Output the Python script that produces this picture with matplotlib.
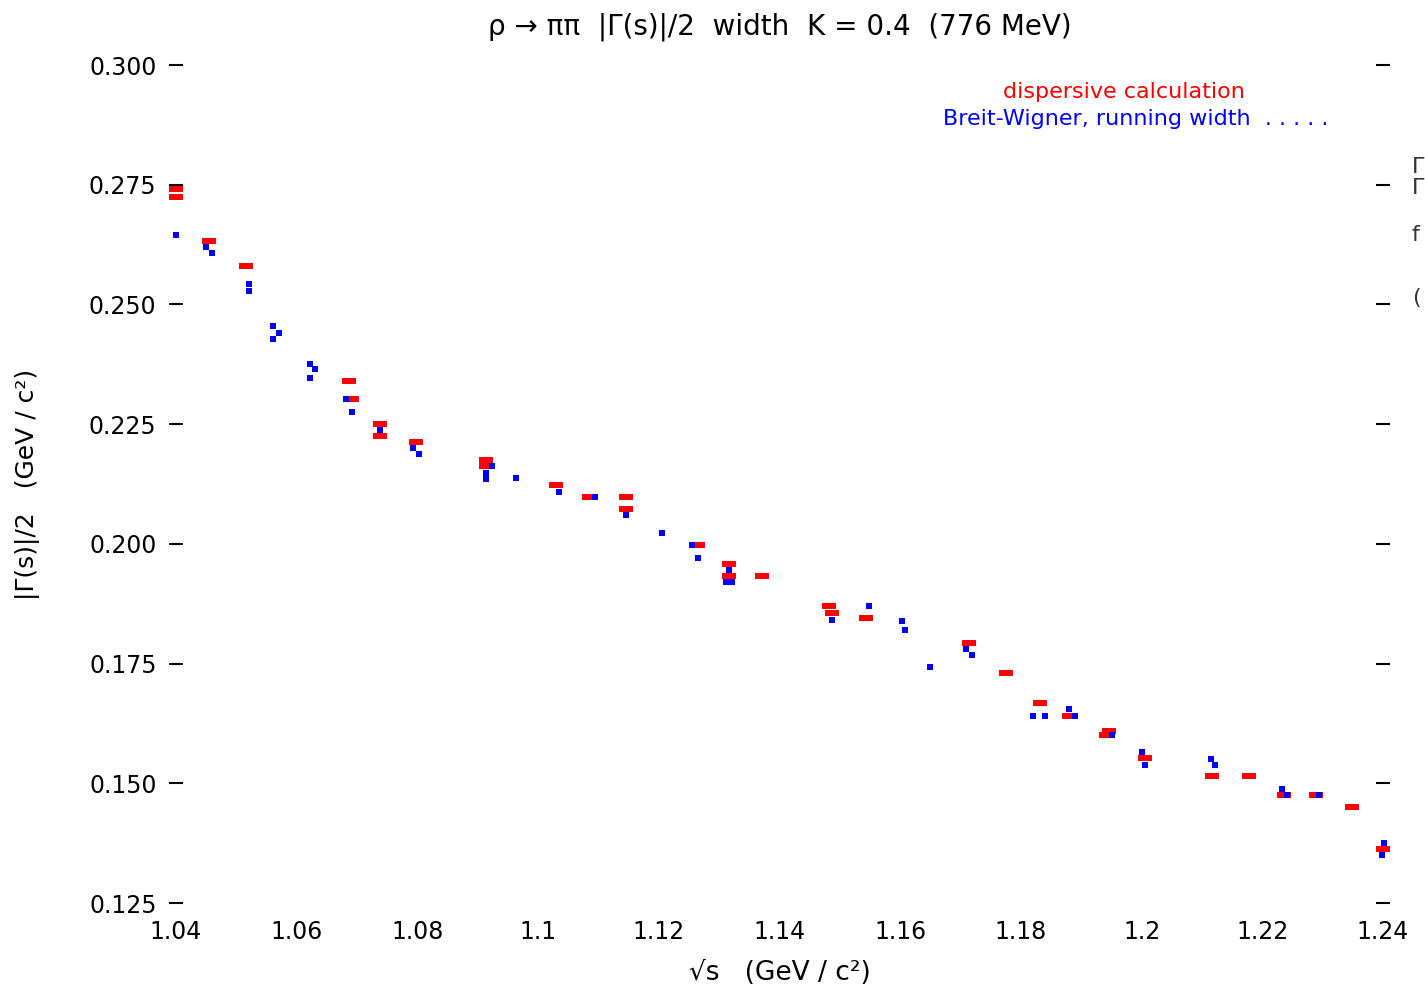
import numpy as np
import matplotlib
matplotlib.use("Agg")
import matplotlib.pyplot as plt

# dispersive calculation (red)
x_disp = [1.0400, 1.0400, 1.0455, 1.0516, 1.0687, 1.0692, 1.0738, 1.0738,
          1.0798, 1.0914, 1.0914, 1.1030, 1.1084, 1.1146, 1.1146, 1.1265,
          1.1316, 1.1316, 1.1371, 1.1482, 1.1487, 1.1544, 1.1714, 1.1775,
          1.1832, 1.1880, 1.1946, 1.1941, 1.2005, 1.2117, 1.2178, 1.2236,
          1.2289, 1.2349, 1.2400]
y_disp = [0.2741, 0.2724, 0.2632, 0.2580, 0.2340, 0.2303, 0.2250, 0.2225,
          0.2213, 0.2175, 0.2163, 0.2123, 0.2098, 0.2098, 0.2073, 0.1998,
          0.1958, 0.1933, 0.1933, 0.1870, 0.1856, 0.1845, 0.1793, 0.1730,
          0.1668, 0.1641, 0.1609, 0.1601, 0.1553, 0.1515, 0.1515, 0.1476,
          0.1476, 0.1451, 0.1363]

# Breit-Wigner fit samples (blue)
x_bw = [1.0400, 1.0450, 1.0460, 1.0521, 1.0521, 1.0561, 1.0571, 1.0561,
        1.0622, 1.0630, 1.0622, 1.0682, 1.0692, 1.0738, 1.0793, 1.0803,
        1.0924, 1.0914, 1.0914, 1.0963, 1.1035, 1.1094, 1.1146, 1.1205,
        1.1255, 1.1265, 1.1316, 1.1311, 1.1321, 1.1487, 1.1548, 1.1603,
        1.1608, 1.1649, 1.1709, 1.1719, 1.1820, 1.1840, 1.1880, 1.1890,
        1.1951, 1.2001, 1.2005, 1.2115, 1.2122, 1.2233, 1.2241, 1.2294,
        1.2402, 1.2398]
y_bw = [0.2645, 0.2620, 0.2607, 0.2543, 0.2528, 0.2455, 0.2440, 0.2428,
        0.2376, 0.2365, 0.2346, 0.2303, 0.2275, 0.2238, 0.2200, 0.2188,
        0.2163, 0.2148, 0.2135, 0.2138, 0.2108, 0.2098, 0.2060, 0.2023,
        0.1998, 0.1970, 0.1945, 0.1920, 0.1920, 0.1841, 0.1870, 0.1839,
        0.1820, 0.1743, 0.1780, 0.1768, 0.1641, 0.1641, 0.1655, 0.1641,
        0.1601, 0.1565, 0.1538, 0.1551, 0.1538, 0.1488, 0.1476, 0.1476,
        0.1375, 0.1350]

x_ticks = [1.04, 1.06, 1.08, 1.10, 1.12, 1.14, 1.16, 1.18, 1.20, 1.22, 1.24]
x_ticklabels = ["1.04", "1.06", "1.08", "1.1", "1.12", "1.14", "1.16",
                "1.18", "1.2", "1.22", "1.24"]
y_ticks = [0.125, 0.150, 0.175, 0.200, 0.225, 0.250, 0.275, 0.300]
y_ticklabels = ["0.125", "0.150", "0.175", "0.200", "0.225", "0.250",
                "0.275", "0.300"]

disp_label = "dispersive calculation"
bw_label = "Breit-Wigner, running width  . . . . ."

fig = plt.figure(figsize=(14.25, 9.88), dpi=100)
ax = fig.add_axes([0.1235, 0.086, 0.847, 0.8482])

ax.plot(x_disp, y_disp, ls="none", marker="_", ms=9.5, mew=4.3,
        color="#ff0000", clip_on=False, zorder=3)
ax.plot(x_bw, y_bw, ls="none", marker="s", ms=5, mew=0,
        color="#0000ff", clip_on=False, zorder=4)

ax.set_xlim(1.04, 1.24)
ax.set_ylim(0.125, 0.300)
ax.set_xticks(x_ticks)
ax.set_xticklabels(x_ticklabels)
ax.set_yticks(y_ticks)
ax.set_yticklabels(y_ticklabels)

for s in ax.spines.values():
    s.set_visible(False)
ax.tick_params(axis="y", which="both", direction="inout", length=10,
               width=1.5, left=True, right=True, labelsize=17, pad=9)
ax.tick_params(axis="x", length=0, labelsize=17, pad=12)

ax.set_title("ρ → ππ  |Γ(s)|/2  width  K = 0.4  (776 MeV)",
             fontsize=20, pad=22)
ax.set_xlabel("√s   (GeV / c²)", fontsize=19, labelpad=12)
ax.set_ylabel("|Γ(s)|/2   (GeV / c²)", fontsize=18, labelpad=35)

# coloured labels in place of a legend
ax.text(0.785, 0.968, disp_label, transform=ax.transAxes, ha="center",
        va="center", color="#ff0000", fontsize=16)
ax.text(0.795, 0.935, bw_label, transform=ax.transAxes, ha="center",
        va="center", color="#0000ff", fontsize=16)

# parameter column at the right edge
for yy, s in zip([167, 188, 235, 298], ["Γ", "Γ", "f", "("]):
    fig.text(1412 / 1425, 1 - yy / 988, s, ha="left", va="center",
             fontsize=16, color="#333333")

fig.savefig("out.png", dpi=100)
